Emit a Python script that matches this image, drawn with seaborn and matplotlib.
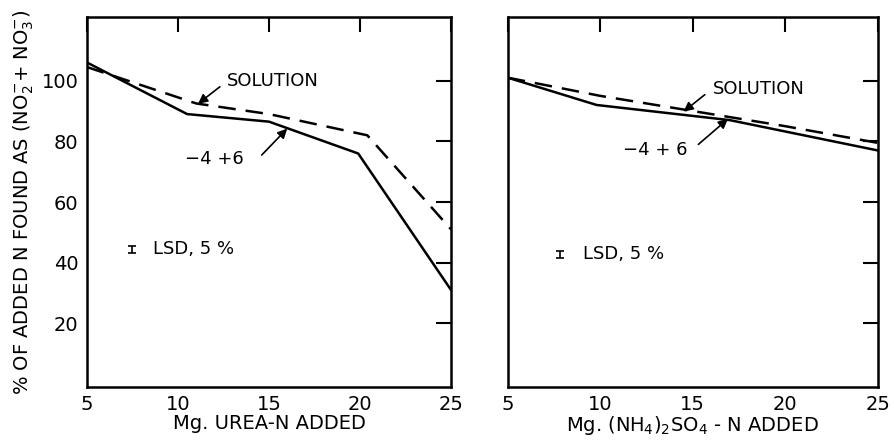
import numpy as np
import pandas as pd
import matplotlib
matplotlib.use("Agg")
import matplotlib.pyplot as plt
import seaborn as sns

# urea panel
urea_x_sol = [5, 11, 15, 20.4, 25]
urea_y_sol = [104.5, 92.5, 89, 82, 51]
urea_x_soil = [5, 10.5, 15, 19.9, 25]
urea_y_soil = [106, 89, 86.5, 76, 31]

# ammonium sulfate panel
amsul_x_sol = [5, 10, 15, 20, 25]
amsul_y_sol = [101, 95, 90, 85, 79.5]
amsul_x_soil = [5, 9.8, 17, 25]
amsul_y_soil = [101, 92, 87, 77]

x_ticks = [5, 10, 15, 20, 25]
y_ticks = [20, 40, 60, 80, 100]
lsd_half = 1.2

sns.set_style("white")
plt.rcParams['font.family'] = ['DejaVu Sans']
plt.rcParams['mathtext.default'] = 'regular'
plt.rcParams['text.color'] = 'black'
plt.rcParams['axes.labelcolor'] = 'black'

fig = plt.figure(figsize=(8.94, 4.41), dpi=100)
ax1 = fig.add_axes([0.0973, 0.1224, 0.4072, 0.839])
ax2 = fig.add_axes([0.568, 0.1224, 0.4139, 0.839])


def draw_panel(ax, xs, ys, xd, yd):
    sns.lineplot(x=xd, y=yd, ax=ax, color="black", lw=1.8, linestyle=(0, (7, 4)))
    sns.lineplot(x=xs, y=ys, ax=ax, color="black", lw=1.8)
    ax.set_xlim(5, 25)
    ax.set_ylim(-1, 121)
    ax.set_xticks(x_ticks)
    ax.set_yticks(y_ticks)
    ax.tick_params(direction="in", length=11, width=1.5, top=True, right=True,
                   labelsize=14, pad=6, colors="black")
    for s in ax.spines.values():
        s.set_linewidth(1.8)
        s.set_color("black")


draw_panel(ax1, urea_x_soil, urea_y_soil, urea_x_sol, urea_y_sol)
draw_panel(ax2, amsul_x_soil, amsul_y_soil, amsul_x_sol, amsul_y_sol)
ax2.set_yticklabels([])

ax1.set_xlabel("Mg. UREA-N ADDED", fontsize=14, labelpad=0)
ax2.set_xlabel("Mg. (NH$_4$)$_2$SO$_4$ - N ADDED", fontsize=14, labelpad=0)
ax1.set_ylabel("% OF ADDED N FOUND AS (NO$_2^{-}$+ NO$_3^{-}$)", fontsize=14, labelpad=4)

arrow = dict(arrowstyle="-|>", color="black", lw=1.2, mutation_scale=14,
             shrinkA=0, shrinkB=0)
txt = dict(fontsize=13, va="center", ha="left", color="black")

ax1.annotate("", xy=(11.1, 92.4), xytext=(12.3, 98), arrowprops=arrow)
ax1.text(12.7, 100, "SOLUTION", **txt)
ax1.annotate("", xy=(16.0, 84.2), xytext=(14.6, 75.5), arrowprops=arrow)
ax1.text(10.4, 74.3, "\u22124 +6", **txt)
ax1.errorbar([7.5], [44.4], yerr=lsd_half, color="black", capsize=3, lw=1.2, capthick=1.2)
ax1.text(8.6, 44.4, "LSD, 5 %", **txt)

ax2.annotate("", xy=(14.5, 89.8), xytext=(15.65, 95.4), arrowprops=arrow)
ax2.text(16.1, 97.4, "SOLUTION", **txt)
ax2.annotate("", xy=(16.9, 87.4), xytext=(15.3, 79), arrowprops=arrow)
ax2.text(11.2, 77.3, "\u22124 + 6", **txt)
ax2.errorbar([7.8], [42.8], yerr=lsd_half, color="black", capsize=3, lw=1.2, capthick=1.2)
ax2.text(9.05, 42.8, "LSD, 5 %", **txt)

fig.savefig("out.png", dpi=100)
